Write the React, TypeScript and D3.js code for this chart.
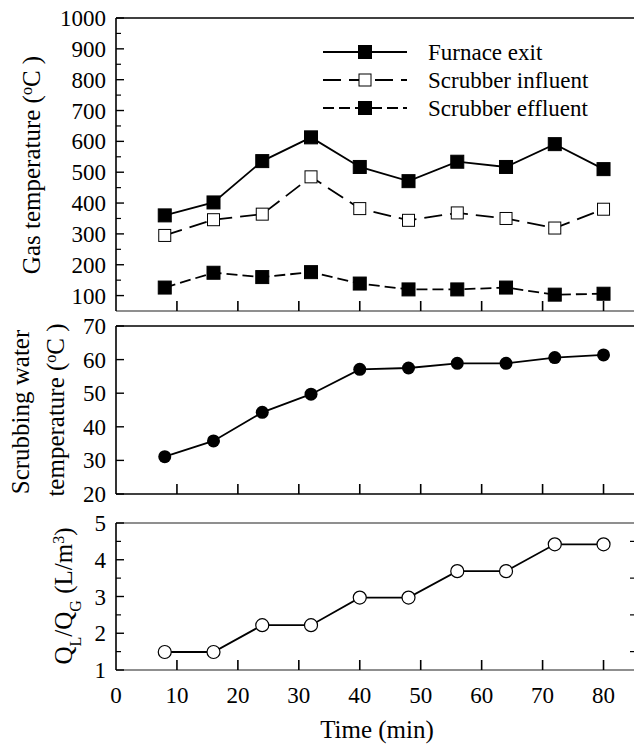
import * as d3 from "d3";

const times = [8, 16, 24, 32, 40, 48, 56, 64, 72, 80];
const furnaceExit = [360, 402, 536, 613, 517, 471, 534, 517, 591, 510];
const scrubberInfluent = [295, 346, 364, 485, 382, 344, 368, 350, 319, 380];
const scrubberEffluent = [126, 174, 160, 176, 139, 120, 120, 126, 103, 106];
const waterTemp = [31.1, 35.8, 44.3, 49.7, 57.1, 57.5, 58.9, 58.9, 60.6, 61.4];
const qlqg = [1.49, 1.49, 2.22, 2.22, 2.97, 2.97, 3.69, 3.69, 4.42, 4.42];

const xTicks = [10, 20, 30, 40, 50, 60, 70, 80];
const xLabels = [0, 10, 20, 30, 40, 50, 60, 70, 80];
const gasTicks = [100, 200, 300, 400, 500, 600, 700, 800, 900, 1000];
const gasMinor = [150, 250, 350, 450, 550, 650, 750, 850, 950];
const waterTicks = [20, 30, 40, 50, 60, 70];
const qTicks = [1, 2, 3, 4, 5];
const qMinor = [1.5, 2.5, 3.5, 4.5];

const legendNames = ["Furnace exit", "Scrubber influent", "Scrubber effluent"];

const FONT = "Liberation Serif";
const GREY = "#6a6a6a";

const x = d3.scaleLinear([0, 85], [116, 634]);
const yGas = d3.scaleLinear([50, 1000], [311, 18]);
const yWater = d3.scaleLinear([20, 70], [494, 326]);
const yQ = d3.scaleLinear([1, 5], [670, 523]);

const Frame = ({ y, major, minor, topColor, bottomColor, showX }) => {
    const [y0, y1] = y.range();
    return (
        <g>
            <line x1={116} x2={634} y1={y1} y2={y1} stroke={topColor} strokeWidth={1.6} />
            <line x1={116} x2={634} y1={y0} y2={y0} stroke={bottomColor} strokeWidth={1.6} />
            <line x1={116} x2={116} y1={y1} y2={y0} stroke="black" strokeWidth={1.6} />
            {major.map((d) => (
                <line key={"M" + d} x1={116} x2={124} y1={y(d)} y2={y(d)} stroke="black" strokeWidth={1.4} />
            ))}
            {minor.map((d) => (
                <line key={"m" + d} x1={116} x2={121} y1={y(d)} y2={y(d)} stroke="black" strokeWidth={1.2} />
            ))}
            {major.map((d) => (
                <text key={"l" + d} x={106} y={y(d)} dy="0.35em" textAnchor="end" fontFamily={FONT} fontSize={23}>
                    {d}
                </text>
            ))}
            {xTicks.map((d) => (
                <line key={"x" + d} x1={x(d)} x2={x(d)} y1={y0} y2={y0 - 10} stroke="black" strokeWidth={1.6} />
            ))}
            {showX &&
                xLabels.map((d) => (
                    <text key={"xl" + d} x={x(d)} y={703} textAnchor="middle" fontFamily={FONT} fontSize={23}>
                        {d}
                    </text>
                ))}
        </g>
    );
};

const series = [
    { values: furnaceExit, dash: undefined, fill: "black" },
    { values: scrubberInfluent, dash: "18,8", fill: "white" },
    { values: scrubberEffluent, dash: "11,5", fill: "black" },
];

const legendRows = [52, 80, 108];

const Title = ({ tx, ty, children }) => (
    <text transform={`translate(${tx},${ty}) rotate(-90)`} textAnchor="middle" fontFamily={FONT} fontSize={25}>
        {children}
    </text>
);

const App = () => {
    const gasLine = d3.line().x((d, i) => x(times[i])).y((d) => yGas(d));
    const waterLine = d3.line().x((d, i) => x(times[i])).y((d) => yWater(d));
    const qLine = d3.line().x((d, i) => x(times[i])).y((d) => yQ(d));

    return (
        <svg width={634} height={747} style={{ position: "absolute", left: 0, top: 0, background: "white" }}>
            <Frame y={yGas} major={gasTicks} minor={gasMinor} topColor="black" bottomColor={GREY} showX={false} />
            <Frame y={yWater} major={waterTicks} minor={[]} topColor="black" bottomColor="black" showX={false} />
            <Frame y={yQ} major={qTicks} minor={qMinor} topColor={GREY} bottomColor={GREY} showX={true} />

            {/* small marks at the right edge of the bottom panel */}
            {qMinor.map((d) => (
                <line key={"r" + d} x1={630} x2={634} y1={yQ(d)} y2={yQ(d)} stroke="black" strokeWidth={1.2} />
            ))}

            {series.map((s, si) => {
                const sz = s.fill === "black" ? 13 : 12;
                return (
                    <g key={"s" + si}>
                        <path d={gasLine(s.values)} fill="none" stroke="black" strokeWidth={1.8} strokeDasharray={s.dash} />
                        {s.values.map((v, i) => (
                            <rect key={i} x={x(times[i]) - sz / 2} y={yGas(v) - sz / 2} width={sz} height={sz}
                                fill={s.fill} stroke="black" strokeWidth={1} />
                        ))}
                    </g>
                );
            })}

            {/* legend */}
            {series.map((s, i) => {
                const ly = legendRows[i];
                const sz = s.fill === "black" ? 13 : 12;
                return (
                    <g key={"lg" + i}>
                        <line x1={323} x2={407} y1={ly} y2={ly} stroke="black" strokeWidth={1.8} strokeDasharray={s.dash} />
                        <rect x={365 - sz / 2} y={ly - sz / 2} width={sz} height={sz} fill={s.fill} stroke="black" strokeWidth={1} />
                        <text x={428} y={ly + 8} fontFamily={FONT} fontSize={23}>{legendNames[i]}</text>
                    </g>
                );
            })}

            <path d={waterLine(waterTemp)} fill="none" stroke="black" strokeWidth={1.8} />
            {waterTemp.map((v, i) => (
                <circle key={"w" + i} cx={x(times[i])} cy={yWater(v)} r={6.5} fill="black" />
            ))}

            <path d={qLine(qlqg)} fill="none" stroke="black" strokeWidth={1.8} />
            {qlqg.map((v, i) => (
                <circle key={"q" + i} cx={x(times[i])} cy={yQ(v)} r={6.5} fill="white" stroke="black" strokeWidth={1.2} />
            ))}

            <Title tx={40} ty={165}>
                Gas temperature (<tspan baselineShift="super" fontSize={16}>o</tspan>C )
            </Title>
            <Title tx={29} ty={412}>Scrubbing water</Title>
            <Title tx={64} ty={410}>
                temperature (<tspan baselineShift="super" fontSize={16}>o</tspan>C )
            </Title>
            <Title tx={72} ty={596}>
                Q<tspan baselineShift="sub" fontSize={16}>L</tspan>/Q<tspan baselineShift="sub" fontSize={16}>G</tspan> (L/m<tspan baselineShift="super" fontSize={16}>3</tspan>)
            </Title>

            <text x={377} y={738} textAnchor="middle" fontFamily={FONT} fontSize={25}>Time (min)</text>
        </svg>
    );
};

export default App;
